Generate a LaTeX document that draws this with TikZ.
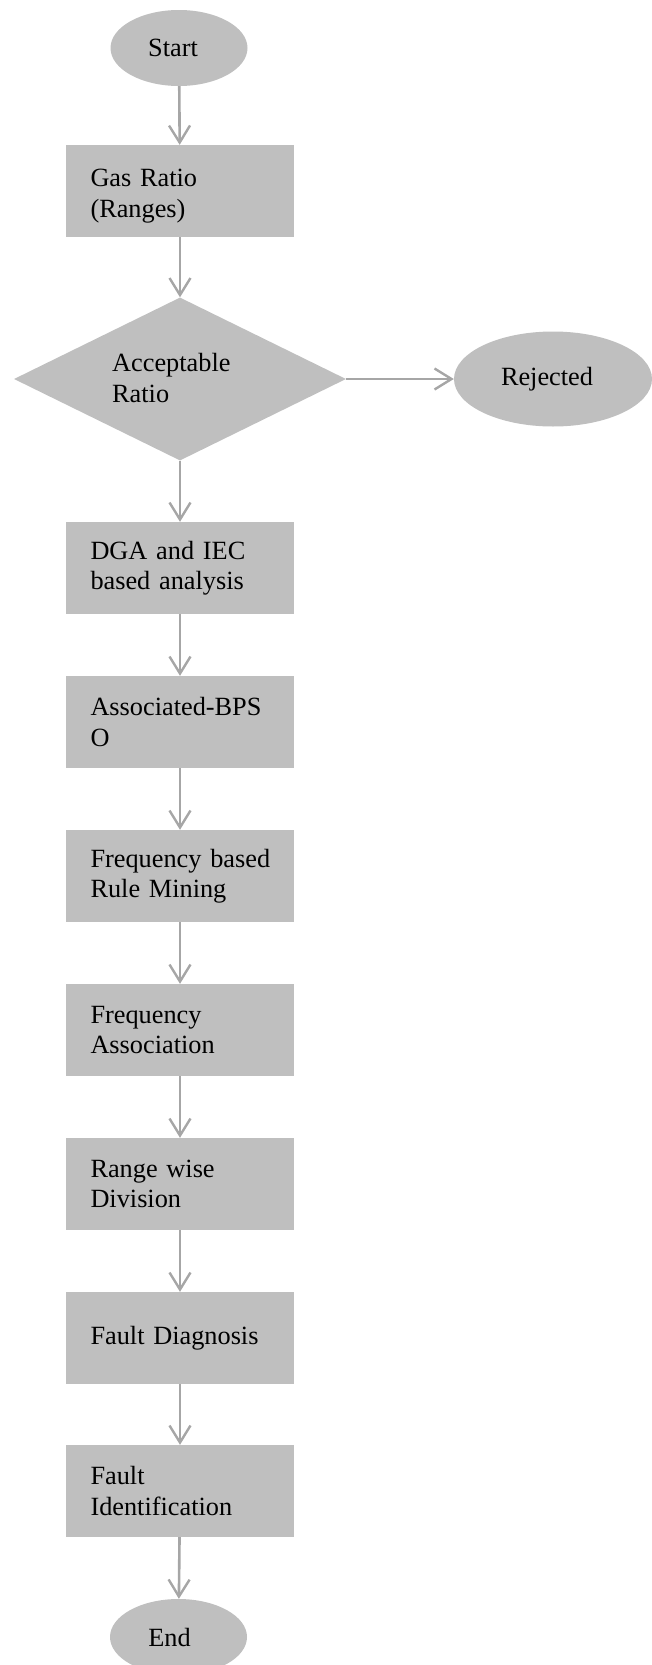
\documentclass[tikz,border=0pt]{standalone}
\usepackage{fontspec}
\setmainfont{Liberation Serif}
\usetikzlibrary{shapes.geometric,arrows.meta}
\definecolor{boxgray}{HTML}{BFBFBF}
\definecolor{arrgray}{HTML}{A6A6A6}
\tikzset{
  every node/.style={font=\fontsize{26.3}{30.5}\selectfont, text=black},
  procbox/.style={rectangle, fill=boxgray, minimum width=228pt, minimum height=92pt,
     inner xsep=24.5pt, inner ysep=0pt, text width=179pt, align=left},
  termnode/.style={ellipse, fill=boxgray, inner sep=0pt},
  decnode/.style={diamond, fill=boxgray, inner sep=0pt, minimum width=332pt, minimum height=163pt, aspect=2.04},
  flowarrow/.style={draw=arrgray, line width=2.6pt,
     -{Straight Barb[length=17pt,width=21pt,line width=2.4pt]}},
}
\begin{document}
\begin{tikzpicture}[x=1pt,y=-1pt]
\useasboundingbox (0,0) rectangle (652,1665);
\node[termnode, minimum width=137pt, minimum height=76pt] (start) at (179,48) {Start\hspace*{12pt}};
\node[procbox, text depth=25.5pt] (gas) at (180,191) {Gas Ratio\\(Ranges)};
\node[decnode] (acc) at (180,379) {};
\node[anchor=west, align=left, inner sep=0pt] (acctext) at (112,378) {Acceptable\\Ratio};
\node[termnode, minimum width=198pt, minimum height=95pt] (rej) at (553,379) {Rejected\hspace*{12pt}};
\node[procbox] (dga) at (180,568) {DGA and IEC\\based analysis};
\node[procbox] (bpso) at (180,722) {Associated-BPS\\O};
\node[procbox] (frm) at (180,876) {\mbox{Frequency based}\\Rule Mining};
\node[procbox] (fas) at (180,1030) {Frequency\\Association};
\node[procbox] (rwd) at (180,1184) {Range wise\\Division};
\node[procbox] (fdg) at (180,1338) {Fault Diagnosis};
\node[procbox] (fid) at (180,1491) {Fault\\Identification};
\node[termnode, minimum width=137pt, minimum height=76pt] (end) at (178.5,1637) {End\hspace*{18pt}};

\draw[flowarrow] (start) -- (gas);
\draw[flowarrow] (gas) -- (acc);
\draw[flowarrow] (acc) -- (rej);
\draw[flowarrow] (acc) -- (dga);
\draw[flowarrow] (dga) -- (bpso);
\draw[flowarrow] (bpso) -- (frm);
\draw[flowarrow] (frm) -- (fas);
\draw[flowarrow] (fas) -- (rwd);
\draw[flowarrow] (rwd) -- (fdg);
\draw[flowarrow] (fdg) -- (fid);
\draw[flowarrow] (fid) -- (end);
\end{tikzpicture}
\end{document}
